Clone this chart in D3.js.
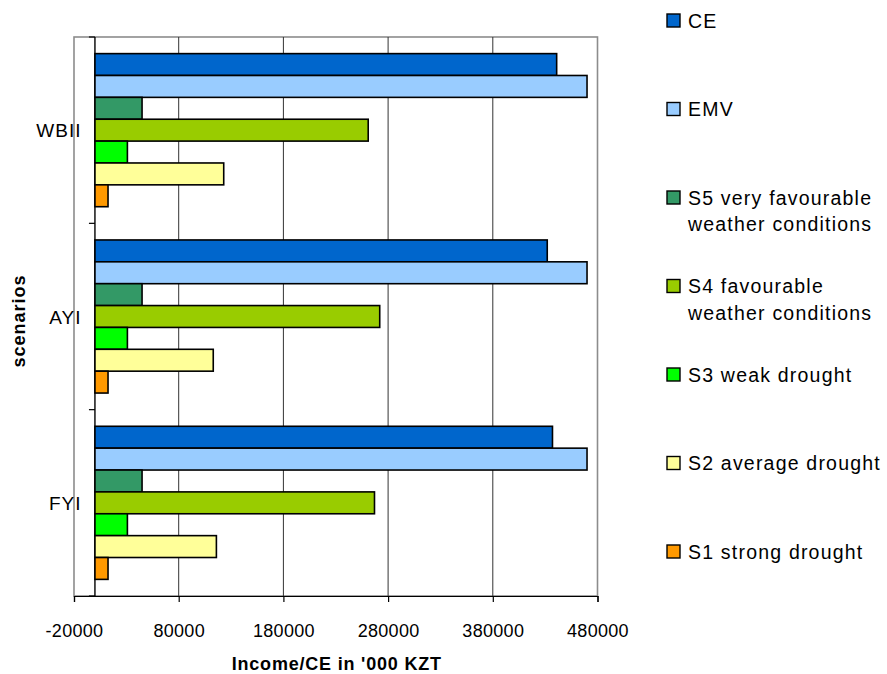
<!DOCTYPE html>
<html>
<head>
<meta charset="utf-8">
<script src="https://cdn.jsdelivr.net/npm/d3@7"></script>
<style>
  html, body { margin: 0; padding: 0; background: #fff; }
  svg { display: block; font-family: "Liberation Sans", Arial, sans-serif; }
</style>
</head>
<body>
<svg id="chart" width="887" height="674"></svg>
<script>
// ---- data ----
const categories = ["WBII", "AYI", "FYI"];
const seriesNames = ["CE", "EMV", "S5 very favourable weather conditions", "S4 favourable weather conditions", "S3 weak drought", "S2 average drought", "S1 strong drought"];
const seriesKeys = ["CE", "EMV", "S5", "S4", "S3", "S2", "S1"];
const seriesColors = ["#0066CC", "#99CCFF", "#339966", "#99CC00", "#00FF00", "#FFFF99", "#FF9900"];
const CE = [441000, 432000, 437000];
const EMV = [470000, 470000, 470000];
const S5 = [45000, 45000, 45000];
const S4 = [261000, 272000, 267000];
const S3 = [31000, 31000, 31000];
const S2 = [123000, 113000, 116000];
const S1 = [12500, 12500, 12500];
const xTicks = [-20000, 80000, 180000, 280000, 380000, 480000];
const legendLines = [["CE"], ["EMV"], ["S5 very favourable", "weather conditions"], ["S4 favourable", "weather conditions"], ["S3 weak drought"], ["S2 average drought"], ["S1 strong drought"]];
const xTitle = "Income/CE in '000 KZT";
const yTitle = "scenarios";

const seriesValues = [CE, EMV, S5, S4, S3, S2, S1];

// ---- layout ----
const svg = d3.select("#chart");
const plot = { left: 74, right: 597.5, top: 37, bottom: 596 };

const x = d3.scaleLinear().domain([-20000, 480000]).range([plot.left, plot.right]);
const y = d3.scaleBand().domain(categories).range([plot.top, plot.bottom]).paddingInner(0).paddingOuter(0);
const ys = d3.scaleBand().domain(seriesKeys).range([0, y.bandwidth()]).paddingInner(0).paddingOuter(0.76);

// plot border
svg.append("rect")
  .attr("x", plot.left).attr("y", plot.top)
  .attr("width", plot.right - plot.left).attr("height", plot.bottom - plot.top)
  .attr("fill", "none").attr("stroke", "#8c8c8c").attr("stroke-width", 1.6);

// gridlines
svg.append("g").selectAll("line")
  .data(xTicks.filter(d => d > -20000 && d < 480000))
  .join("line")
  .attr("x1", d => x(d)).attr("x2", d => x(d))
  .attr("y1", plot.top).attr("y2", plot.bottom)
  .attr("stroke", "#333").attr("stroke-width", 1);

// x axis (bottom)
const xAxis = d3.axisBottom(x).tickValues(xTicks).tickSize(6).tickPadding(22).tickFormat(d => String(d));
const gx = svg.append("g").attr("transform", `translate(0,${plot.bottom})`).call(xAxis);
gx.select(".domain").attr("stroke", "#000").attr("stroke-width", 1.2);
gx.selectAll(".tick line").attr("stroke", "#000").attr("stroke-width", 1.2);
gx.selectAll(".tick text")
  .attr("font-family", "'Liberation Sans', Arial, sans-serif")
  .attr("font-size", 18).attr("letter-spacing", "0.3px").attr("fill", "#000");

// category axis at zero
const x0 = x(0);
svg.append("line")
  .attr("x1", x0).attr("x2", x0).attr("y1", plot.top).attr("y2", plot.bottom)
  .attr("stroke", "#000").attr("stroke-width", 1.4);
const boundaries = categories.map(c => y(c)).concat([plot.bottom]);
svg.append("g").selectAll("line").data(boundaries).join("line")
  .attr("x1", x0 - 6).attr("x2", x0).attr("y1", d => d).attr("y2", d => d)
  .attr("stroke", "#000").attr("stroke-width", 1.2);

// category labels
svg.append("g").selectAll("text").data(categories).join("text")
  .attr("x", 81.5).attr("y", d => y(d) + y.bandwidth() / 2 + 7)
  .attr("text-anchor", "end")
  .attr("font-size", 19).attr("letter-spacing", "1px").attr("fill", "#000")
  .text(d => d);

// bars
seriesKeys.forEach((key, si) => {
  svg.append("g").selectAll("rect").data(categories).join("rect")
    .attr("x", x(0))
    .attr("y", (c) => y(c) + ys(key))
    .attr("width", (c, i) => x(seriesValues[si][i]) - x(0))
    .attr("height", ys.bandwidth())
    .attr("fill", seriesColors[si])
    .attr("stroke", "#000").attr("stroke-width", 1.6);
});

// axis titles
svg.append("text")
  .attr("x", (plot.left + plot.right) / 2 + 1).attr("y", 670)
  .attr("text-anchor", "middle").attr("font-weight", "bold")
  .attr("font-size", 18).attr("letter-spacing", "0.8px").attr("fill", "#000")
  .text(xTitle);
svg.append("text")
  .attr("transform", `translate(25,321) rotate(-90)`)
  .attr("text-anchor", "middle").attr("font-weight", "bold")
  .attr("font-size", 18).attr("letter-spacing", "1px").attr("fill", "#000")
  .text(yTitle);

// legend
const legendY = d3.scalePoint().domain(seriesKeys).range([20.5, 551.5]);
const lg = svg.append("g");
seriesKeys.forEach((key, i) => {
  const cy = legendY(key);
  lg.append("rect")
    .attr("x", 667).attr("y", cy - 6.5).attr("width", 13).attr("height", 13)
    .attr("fill", seriesColors[i]).attr("stroke", "#000").attr("stroke-width", 1.4);
  const t = lg.append("text")
    .attr("x", 688).attr("y", cy + 7)
    .attr("font-size", 19.5).attr("letter-spacing", "1.2px").attr("fill", "#000");
  legendLines[i].forEach((line, li) => {
    t.append("tspan").attr("x", 688).attr("dy", li === 0 ? 0 : 26.5).text(line);
  });
});
</script>
</body>
</html>
